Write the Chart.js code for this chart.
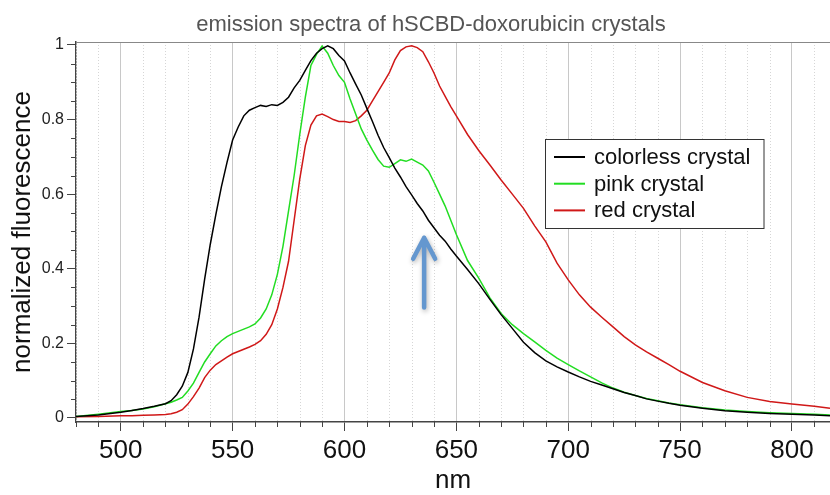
<!DOCTYPE html>
<html>
<head>
<meta charset="utf-8">
<title>emission spectra</title>
<script src="https://cdn.jsdelivr.net/npm/chart.js@4.4.1/dist/chart.umd.min.js"></script>
<style>
  html, body { margin: 0; padding: 0; background: #fff; }
  canvas { display: block; }
</style>
</head>
<body>
<canvas id="graph" width="830" height="495"></canvas>
<script>
const FONT = '"Liberation Sans", Arial, sans-serif';

const titleText = "emission spectra of hSCBD-doxorubicin crystals";

// wavelength grid (nm), finer around the peaks
const wavelengths = [
  480, 490, 500, 505, 510, 515, 520, 522.5, 525, 527.5,
  530, 532.5, 535, 537.5, 540, 542.5, 545, 547.5, 550, 552.5,
  555, 557.5, 560, 562.5, 565, 567.5, 570, 572.5, 575, 577.5,
  580, 582.5, 585, 587.5, 590, 592.5, 595, 597.5, 600, 602.5,
  605, 607.5, 610, 612.5, 615, 617.5, 620, 622.5, 625, 627.5,
  630, 632.5, 635, 637.5, 640, 642.5, 645, 647.5, 650, 655,
  660, 665, 670, 675, 680, 685, 690, 695, 700, 705,
  710, 715, 720, 725, 730, 735, 740, 745, 750, 760,
  770, 780, 790, 800, 810, 817
];

const colorless = [
  0.004, 0.008, 0.015, 0.020, 0.025, 0.031, 0.038, 0.046, 0.062, 0.085,
  0.122, 0.185, 0.270, 0.372, 0.465, 0.545, 0.620, 0.685, 0.745, 0.780,
  0.810, 0.825, 0.832, 0.838, 0.835, 0.840, 0.838, 0.846, 0.860, 0.885,
  0.905, 0.932, 0.958, 0.978, 0.990, 0.998, 0.990, 0.972, 0.957, 0.925,
  0.895, 0.866, 0.830, 0.795, 0.758, 0.725, 0.698, 0.670, 0.646, 0.620,
  0.598, 0.575, 0.555, 0.530, 0.510, 0.490, 0.474, 0.453, 0.434, 0.398,
  0.360, 0.318, 0.277, 0.240, 0.203, 0.175, 0.153, 0.137, 0.123, 0.110,
  0.098, 0.088, 0.078, 0.068, 0.060, 0.051, 0.045, 0.039, 0.034, 0.026,
  0.019, 0.015, 0.012, 0.010, 0.008, 0.006
];

const pink = [
  0.004, 0.010, 0.017, 0.020, 0.024, 0.030, 0.038, 0.042, 0.048, 0.055,
  0.072, 0.093, 0.122, 0.150, 0.172, 0.193, 0.207, 0.218, 0.226, 0.232,
  0.238, 0.244, 0.252, 0.268, 0.292, 0.330, 0.385, 0.460, 0.555, 0.650,
  0.760, 0.860, 0.945, 0.975, 0.997, 0.978, 0.945, 0.918, 0.900, 0.855,
  0.815, 0.775, 0.745, 0.718, 0.693, 0.675, 0.672, 0.682, 0.692, 0.688,
  0.694, 0.686, 0.678, 0.662, 0.632, 0.600, 0.568, 0.530, 0.492, 0.422,
  0.375, 0.322, 0.280, 0.250, 0.226, 0.204, 0.181, 0.160, 0.143, 0.126,
  0.110, 0.094, 0.080, 0.069, 0.060, 0.052, 0.046, 0.040, 0.035, 0.027,
  0.021, 0.017, 0.014, 0.012, 0.010, 0.008
];

const red = [
  0.003, 0.004, 0.006, 0.006, 0.007, 0.008, 0.009, 0.011, 0.015, 0.022,
  0.037, 0.057, 0.080, 0.108, 0.128, 0.143, 0.153, 0.163, 0.172, 0.178,
  0.184, 0.190, 0.197, 0.207, 0.224, 0.250, 0.292, 0.350, 0.420, 0.530,
  0.640, 0.730, 0.785, 0.810, 0.815, 0.808, 0.800, 0.795, 0.795, 0.792,
  0.797, 0.810, 0.825, 0.850, 0.875, 0.900, 0.925, 0.960, 0.985, 0.995,
  0.998, 0.993, 0.982, 0.955, 0.925, 0.890, 0.862, 0.835, 0.810, 0.760,
  0.717, 0.678, 0.638, 0.600, 0.562, 0.515, 0.472, 0.415, 0.370, 0.330,
  0.297, 0.270, 0.244, 0.218, 0.196, 0.177, 0.160, 0.143, 0.125, 0.095,
  0.073, 0.055, 0.044, 0.037, 0.031, 0.026
];

const seriesLabels = ["colorless crystal", "pink crystal", "red crystal"];
const seriesValues = [colorless, pink, red];
const seriesColors = ["#000000", "#22dd22", "#d01818"];

// blue arrow pointing at the pink shoulder (nm, from -> to)
const arrowNm = 635.6;
const arrowFrom = 0.296;
const arrowTo = 0.483;

function toPoints(values) {
  return values.map((v, i) => ({ x: wavelengths[i], y: v }));
}

// dotted minor grid, minor ticks, top frame and title
const decorations = {
  id: "decorations",
  beforeDatasetsDraw(chart) {
    const { ctx, chartArea: area, scales: { x, y } } = chart;
    ctx.save();
    ctx.lineWidth = 1;
    for (let nm = 480; nm <= 817; nm += 10) {
      if (nm % 50 === 0) continue;
      const px = Math.round(x.getPixelForValue(nm)) + 0.5;
      ctx.strokeStyle = "#d6d6d6";
      ctx.setLineDash([1, 2]);
      ctx.beginPath();
      ctx.moveTo(px, area.top);
      ctx.lineTo(px, area.bottom);
      ctx.stroke();
      ctx.setLineDash([]);
      ctx.strokeStyle = "#444";
      ctx.beginPath();
      ctx.moveTo(px, area.bottom);
      ctx.lineTo(px, area.bottom + 5);
      ctx.stroke();
    }
    for (let i = 1; i < 20; i++) {
      if (i % 4 === 0) continue;
      const py = Math.round(y.getPixelForValue(i * 0.05)) + 0.5;
      ctx.strokeStyle = "#444";
      ctx.beginPath();
      ctx.moveTo(area.left - 5, py);
      ctx.lineTo(area.left, py);
      ctx.stroke();
    }
    ctx.strokeStyle = "#888";
    ctx.beginPath();
    ctx.moveTo(area.left, area.top + 0.5);
    ctx.lineTo(area.right, area.top + 0.5);
    ctx.stroke();

    ctx.font = "22px " + FONT;
    ctx.fillStyle = "#555";
    ctx.textAlign = "center";
    ctx.textBaseline = "alphabetic";
    ctx.fillText(titleText, 431, 31);
    ctx.restore();
  },
  afterDatasetsDraw(chart) {
    const { ctx, scales: { x, y } } = chart;
    const ax = x.getPixelForValue(arrowNm);
    const tip = y.getPixelForValue(arrowTo);
    const tail = y.getPixelForValue(arrowFrom);
    ctx.save();
    ctx.strokeStyle = "#6497cf";
    ctx.lineWidth = 4.5;
    ctx.lineCap = "round";
    ctx.lineJoin = "round";
    ctx.shadowColor = "rgba(0,0,0,0.3)";
    ctx.shadowBlur = 5;
    ctx.shadowOffsetX = 1;
    ctx.shadowOffsetY = 2;
    ctx.beginPath();
    ctx.moveTo(ax, tail);
    ctx.lineTo(ax, tip);
    ctx.moveTo(ax - 11, tip + 21);
    ctx.lineTo(ax, tip);
    ctx.lineTo(ax + 11, tip + 21);
    ctx.stroke();
    ctx.restore();
  },
  afterDraw(chart) {
    const { ctx } = chart;
    ctx.save();
    ctx.fillStyle = "#fff";
    ctx.fillRect(545.5, 139.5, 218.5, 89);
    ctx.strokeStyle = "#333";
    ctx.lineWidth = 1;
    ctx.strokeRect(545.5, 139.5, 218.5, 89);
    ctx.font = "22px " + FONT;
    ctx.textAlign = "left";
    ctx.textBaseline = "middle";
    chart.data.datasets.forEach((ds, i) => {
      const cy = 157 + i * 26.7;
      ctx.strokeStyle = ds.borderColor;
      ctx.lineWidth = 2;
      ctx.beginPath();
      ctx.moveTo(554, cy);
      ctx.lineTo(585, cy);
      ctx.stroke();
      ctx.fillStyle = "#111";
      ctx.fillText(ds.label, 594, cy + 1);
    });
    ctx.restore();
  }
};

new Chart(document.getElementById("graph"), {
  type: "line",
  data: {
    datasets: seriesLabels.map((label, i) => ({
      label: label,
      data: toPoints(seriesValues[i]),
      borderColor: seriesColors[i],
      borderWidth: 1.5,
      pointRadius: 0,
      tension: 0,
      fill: false,
    })),
  },
  options: {
    responsive: false,
    animation: false,
    events: [],
    layout: { padding: { top: 42, left: 0, right: 0, bottom: 0 } },
    plugins: {
      legend: { display: false },
      title: { display: false },
      tooltip: { enabled: false },
    },
    scales: {
      x: {
        type: "linear",
        min: 480,
        max: 817,
        afterFit: (scale) => { scale.height = 73; },
        ticks: {
          stepSize: 50,
          includeBounds: false,
          maxRotation: 0,
          autoSkip: false,
          padding: 4,
          color: "#111",
          font: { family: FONT, size: 26 },
        },
        grid: {
          color: "#c8c8c8",
          lineWidth: 1,
          tickLength: 9,
          tickColor: "#444",
        },
        border: { color: "#444", width: 1.5 },
        title: {
          display: true,
          text: "nm",
          color: "#111",
          padding: 0,
          font: { family: FONT, size: 26, lineHeight: 1.1 },
        },
      },
      y: {
        min: -0.011,
        max: 1.008,
        afterFit: (scale) => { scale.width = 76; },
        ticks: {
          stepSize: 0.2,
          includeBounds: false,
          padding: 3,
          color: "#222",
          font: { family: FONT, size: 16 },
          callback: (value) => String(+value.toFixed(1)),
        },
        grid: {
          drawOnChartArea: false,
          tickLength: 9,
          tickColor: "#444",
        },
        border: { color: "#444", width: 1.5 },
        title: {
          display: true,
          text: "normalized fluorescence",
          color: "#111",
          padding: { top: 7, bottom: 0 },
          font: { family: FONT, size: 26 },
        },
      },
    },
  },
  plugins: [decorations],
});
</script>
</body>
</html>
